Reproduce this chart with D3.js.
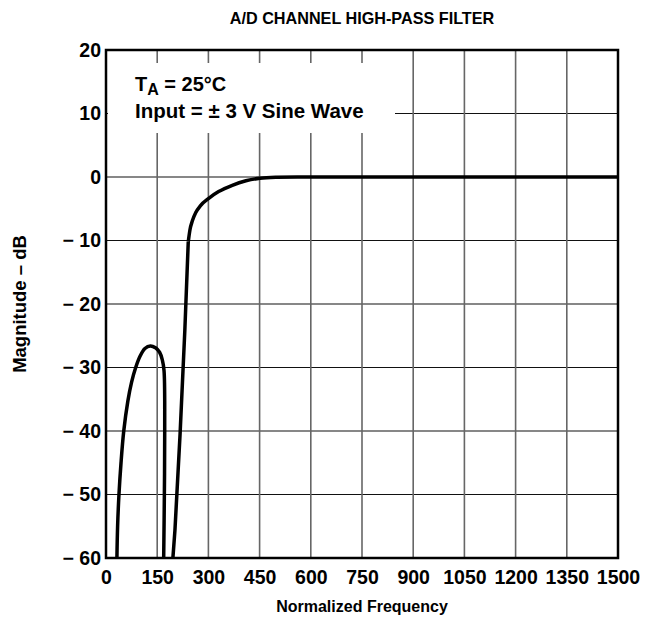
<!DOCTYPE html>
<html>
<head>
<meta charset="utf-8">
<script src="https://cdn.jsdelivr.net/npm/d3@7"></script>
<style>
  body { margin: 0; background: #fff; }
  text { font-family: "Liberation Sans", Arial, sans-serif; font-weight: bold; fill: #000; }
</style>
</head>
<body>
<div id="root"></div>
<script>
// Axis ticks
const xTicks = [0, 150, 300, 450, 600, 750, 900, 1050, 1200, 1350, 1500];
const yTicks = [20, 10, 0, -10, -20, -30, -40, -50, -60];

// Side lobe (stop band)
const lobeFreq = [32, 34, 38, 44, 52, 64, 75, 87, 100, 114, 130, 145, 157, 165, 170, 172, 171, 169];
const lobeDb = [-60, -55, -50, -45, -40, -35.3, -32.3, -30, -28.2, -27, -26.6, -26.9, -27.6, -28.8, -30.5, -40, -50, -60];

// Steep rise up to the corner
const riseFreq = [196, 202, 217, 231, 241];
const riseDb = [-60, -55.6, -40.5, -24.1, -10.2];

// Knee and pass band
const passFreq = [241, 246, 253, 263, 277, 300, 330, 370, 410, 451, 500, 560, 1500];
const passDb = [-10.2, -8.3, -6.9, -5.6, -4.5, -3.4, -2.3, -1.3, -0.6, -0.2, -0.05, 0, 0];

function drawChart() {
  const fullWidth = 645;
  const fullHeight = 629;
  const margin = { top: 50, right: 27, bottom: 71, left: 106 };
  const innerWidth = fullWidth - margin.left - margin.right;
  const innerHeight = fullHeight - margin.top - margin.bottom;

  const svg = d3
    .select("#root")
    .append("svg")
    .attr("width", fullWidth)
    .attr("height", fullHeight);

  const chartGroup = svg
    .append("g")
    .attr("transform", `translate(${margin.left},${margin.top})`);

  const xScale = d3.scaleLinear().domain([0, 1500]).range([0, innerWidth]);
  const yScale = d3.scaleLinear().domain([-60, 20]).range([innerHeight, 0]);

  // Title
  svg
    .append("text")
    .attr("x", margin.left + innerWidth / 2)
    .attr("y", 24)
    .attr("text-anchor", "middle")
    .style("font-size", "16.2px")
    .text("A/D CHANNEL HIGH-PASS FILTER");

  // Horizontal grid
  chartGroup
    .selectAll(".hgrid")
    .data(yTicks.slice(1, -1))
    .enter()
    .append("line")
    .attr("x1", 0)
    .attr("x2", innerWidth)
    .attr("y1", (d) => yScale(d))
    .attr("y2", (d) => yScale(d))
    .attr("stroke", "#111")
    .attr("stroke-width", 1.2);

  // Vertical grid
  chartGroup
    .selectAll(".vgrid")
    .data(xTicks.slice(1, -1))
    .enter()
    .append("line")
    .attr("x1", (d) => xScale(d))
    .attr("x2", (d) => xScale(d))
    .attr("y1", 0)
    .attr("y2", innerHeight)
    .attr("stroke", "#666")
    .attr("stroke-width", 1.6);

  // Legend box
  chartGroup
    .append("rect")
    .attr("x", 2)
    .attr("y", 13)
    .attr("width", 287)
    .attr("height", 70)
    .attr("fill", "#fff");

  const note = chartGroup.append("text").attr("x", 29).style("font-size", "20px");
  note.append("tspan").attr("y", 41).text("T");
  note.append("tspan").attr("dy", 3.5).style("font-size", "16px").text("A");
  note.append("tspan").attr("dy", -3.5).text(" = 25\u00B0C");

  chartGroup
    .append("text")
    .attr("x", 29)
    .attr("y", 68)
    .style("font-size", "20.5px")
    .text("Input = \u00B1 3 V Sine Wave");

  // Curves
  const line = (curve) =>
    d3
      .line()
      .x((d) => xScale(d[0]))
      .y((d) => yScale(d[1]))
      .curve(curve);

  const curves = [
    [d3.zip(lobeFreq, lobeDb), d3.curveCatmullRom.alpha(0.5)],
    [d3.zip(riseFreq, riseDb), d3.curveLinear],
    [d3.zip(passFreq, passDb), d3.curveMonotoneX],
  ];

  chartGroup
    .append("clipPath")
    .attr("id", "plot-clip")
    .append("rect")
    .attr("width", innerWidth)
    .attr("height", innerHeight);

  curves.forEach(([data, curve]) => {
    chartGroup
      .append("path")
      .attr("d", line(curve)(data))
      .attr("clip-path", "url(#plot-clip)")
      .attr("fill", "none")
      .attr("stroke", "#000")
      .attr("stroke-width", 3.5)
      .attr("stroke-linejoin", "round");
  });

  // Frame
  chartGroup
    .append("rect")
    .attr("width", innerWidth)
    .attr("height", innerHeight)
    .attr("fill", "none")
    .attr("stroke", "#000")
    .attr("stroke-width", 2.5);

  // Axes
  const fmt = (d) => (d < 0 ? "\u2212 " + Math.abs(d) : String(d));

  const xAxis = d3
    .axisBottom(xScale)
    .tickValues(xTicks)
    .tickFormat(d3.format("d"))
    .tickSize(0)
    .tickPadding(12);
  const xG = chartGroup
    .append("g")
    .attr("transform", `translate(0,${innerHeight})`)
    .call(xAxis);
  xG.select(".domain").remove();
  xG.selectAll("text").style("font-size", "19.5px").attr("font-family", null);

  const yAxis = d3
    .axisLeft(yScale)
    .tickValues(yTicks)
    .tickFormat(fmt)
    .tickSize(0)
    .tickPadding(5);
  const yG = chartGroup.append("g").call(yAxis);
  yG.select(".domain").remove();
  yG.selectAll("text").style("font-size", "19.5px").attr("font-family", null);

  // Axis labels
  svg
    .append("text")
    .attr("x", margin.left + innerWidth / 2)
    .attr("y", 612)
    .attr("text-anchor", "middle")
    .style("font-size", "16px")
    .text("Normalized Frequency");

  svg
    .append("text")
    .attr("transform", `translate(26,${margin.top + innerHeight / 2}) rotate(-90)`)
    .attr("text-anchor", "middle")
    .style("font-size", "18.5px")
    .text("Magnitude \u2013 dB");
}

drawChart();
</script>
</body>
</html>
